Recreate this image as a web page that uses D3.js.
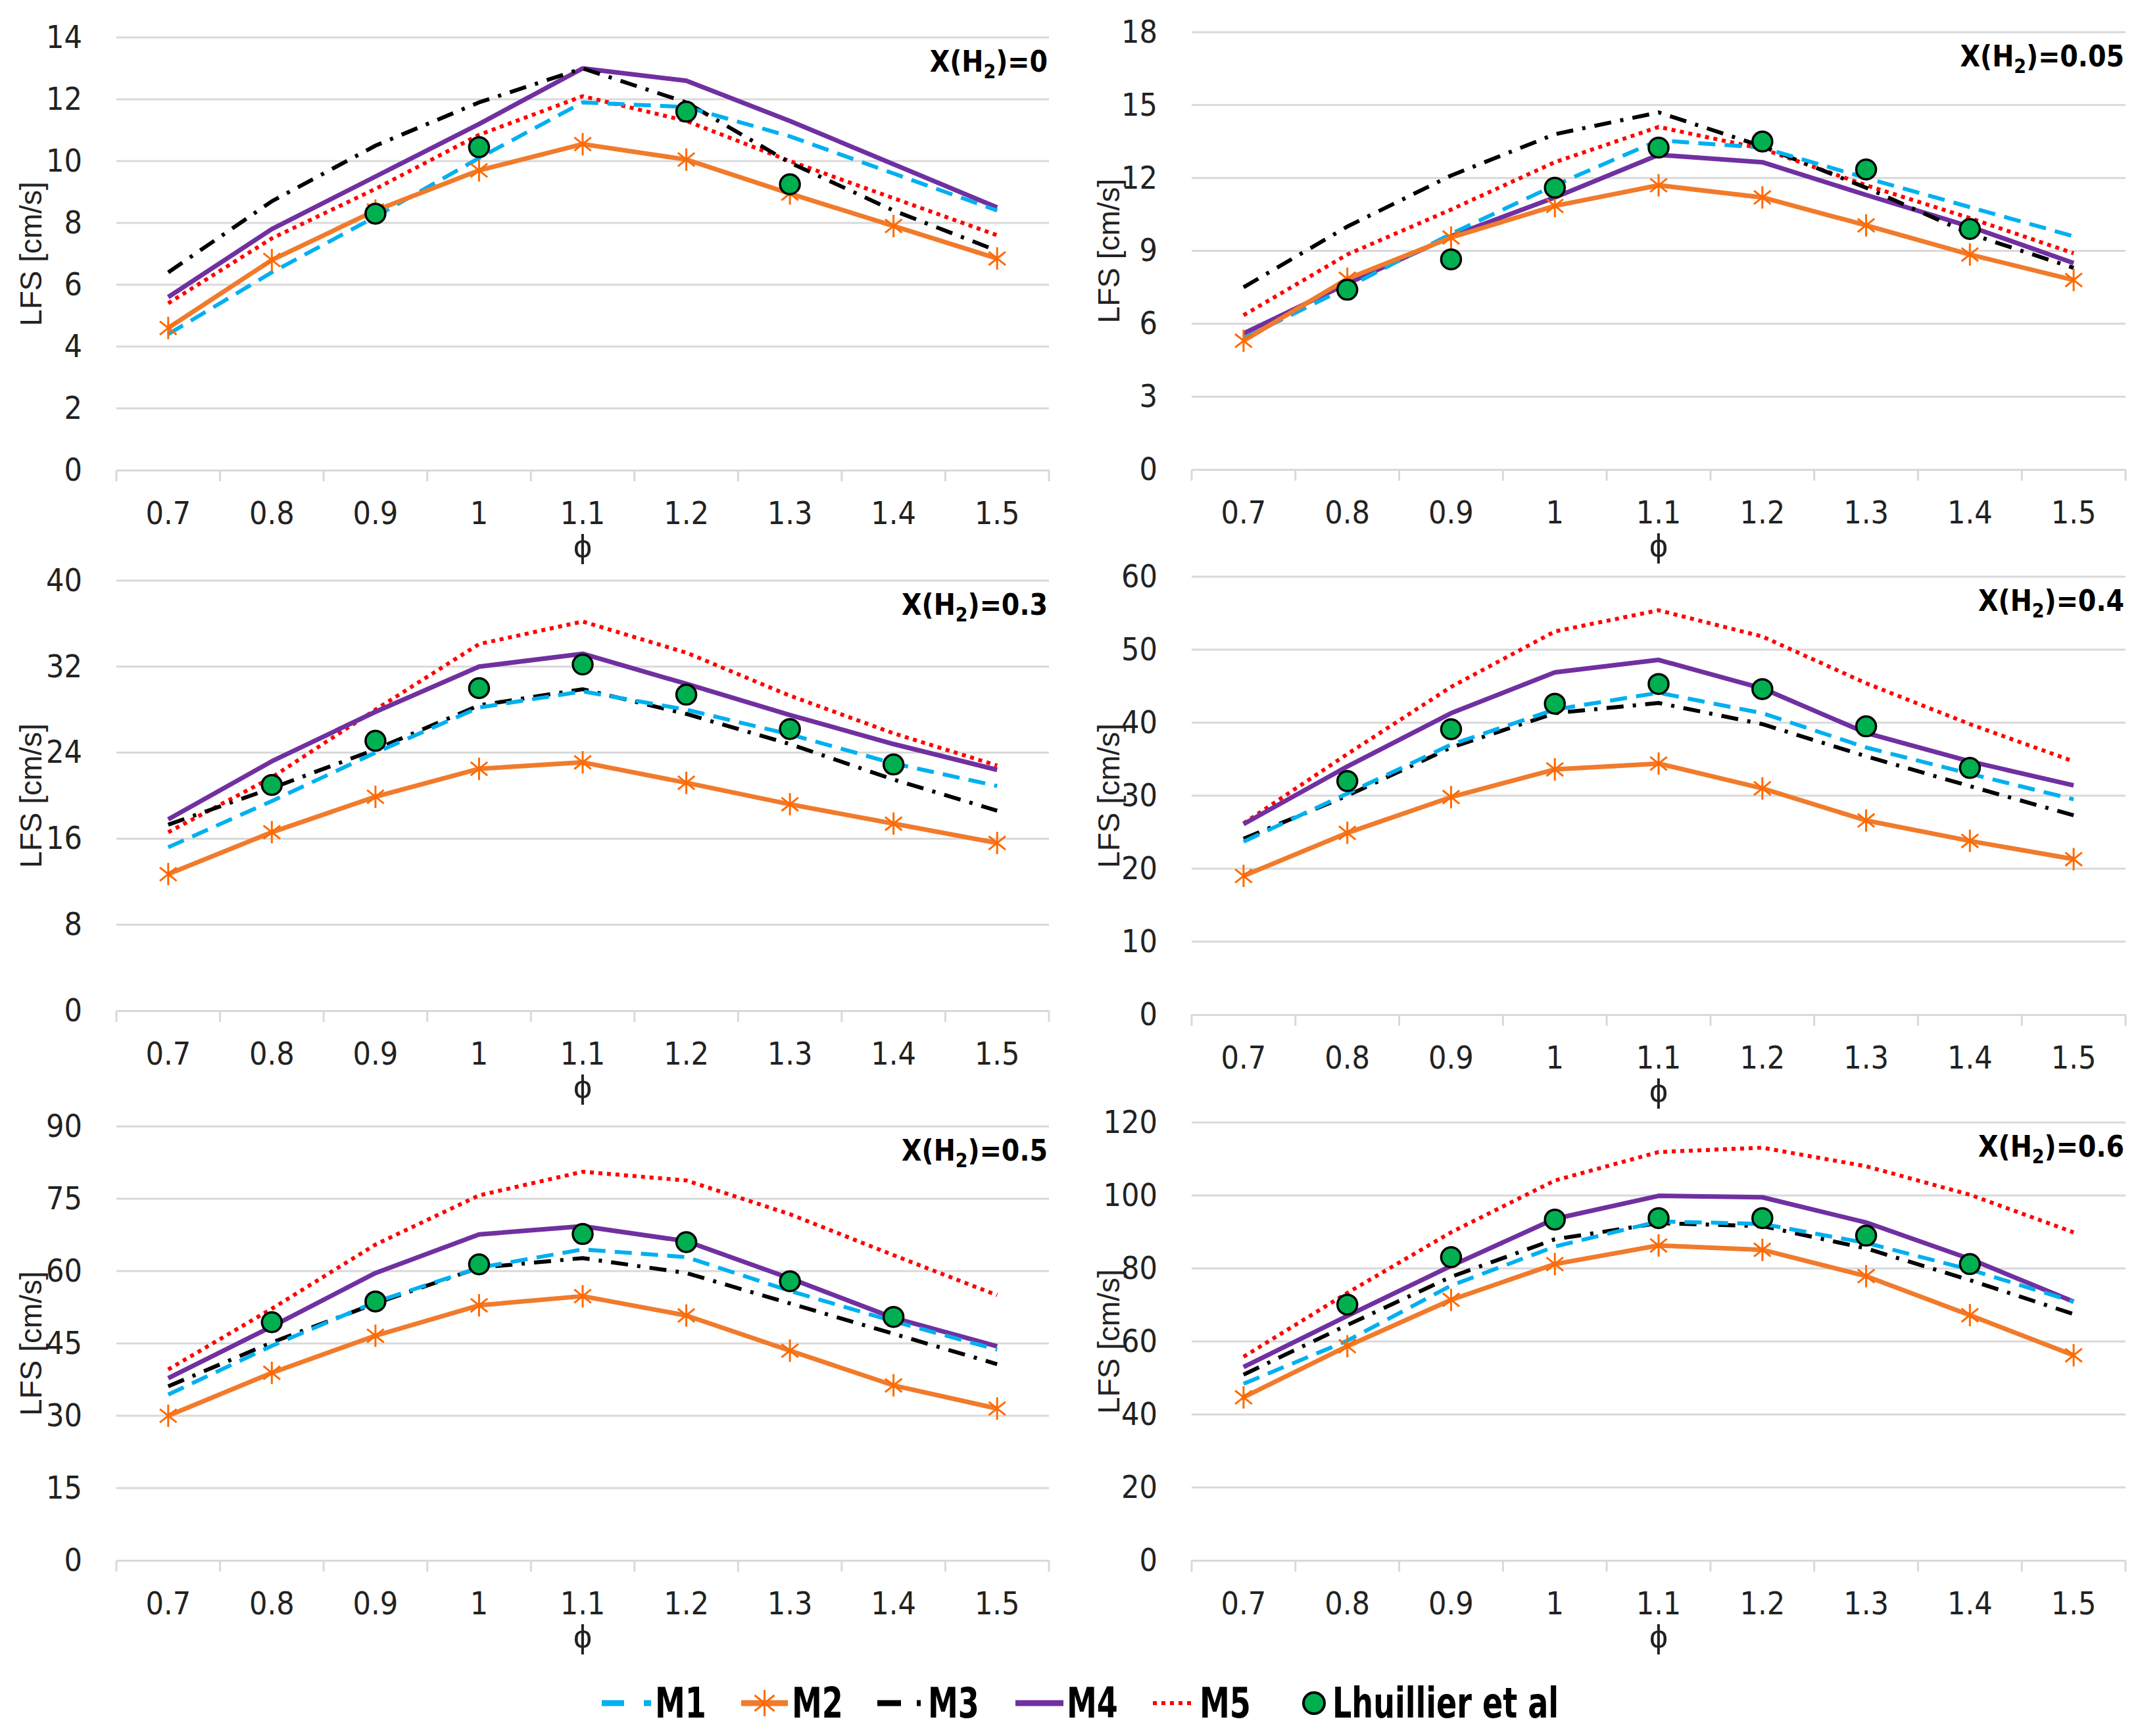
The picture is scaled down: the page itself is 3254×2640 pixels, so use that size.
<!DOCTYPE html>
<html>
<head>
<meta charset="utf-8">
<script src="https://cdn.jsdelivr.net/npm/d3@7"></script>
<style>
  body { margin: 0; background: #fff; }
  svg { display: block; }
</style>
</head>
<body>
<div id="chart"></div>
<script>
// ---- data ----
const phi = ["0.7", "0.8", "0.9", "1", "1.1", "1.2", "1.3", "1.4", "1.5"];
const panelTitles = ["0", "0.05", "0.3", "0.4", "0.5", "0.6"];
const yMax = [14, 18, 40, 60, 90, 120];
const yStep = [2, 3, 8, 10, 15, 20];
const seriesNames = ["M1", "M2", "M3", "M4", "M5", "Lhuillier et al"];

// one row per panel, values at phi 0.7 .. 1.5
const m1 = [
  [4.4, 6.4, 8.2, 10.1, 11.9, 11.75, 10.8, 9.6, 8.4],
  [5.4, 7.5, 9.7, 11.7, 13.55, 13.25, 12.0, 10.8, 9.6],
  [15.2, 19.5, 24.0, 28.2, 29.7, 28.0, 25.7, 23.0, 20.9],
  [23.7, 30.3, 37.0, 41.8, 44.1, 41.3, 36.6, 33.0, 29.5],
  [34.4, 44.5, 53.6, 60.7, 64.5, 62.9, 55.9, 49.6, 43.7],
  [48.4, 60.2, 75.3, 86.0, 92.9, 92.2, 87.0, 79.7, 70.9]
];
const m2 = [
  [4.6, 6.8, 8.4, 9.7, 10.55, 10.05, 8.95, 7.9, 6.85],
  [5.3, 7.85, 9.55, 10.85, 11.7, 11.2, 10.05, 8.85, 7.8],
  [12.7, 16.6, 19.9, 22.5, 23.1, 21.2, 19.2, 17.4, 15.6],
  [19.0, 24.9, 29.8, 33.6, 34.4, 31.0, 26.6, 23.8, 21.3],
  [30.0, 38.9, 46.6, 52.9, 54.8, 50.8, 43.5, 36.3, 31.5],
  [44.7, 58.7, 71.4, 81.2, 86.3, 85.1, 77.9, 67.2, 56.2]
];
const m3 = [
  [6.4, 8.7, 10.5, 11.9, 13.0, 11.9, 9.95, 8.4, 7.1],
  [7.5, 10.0, 12.1, 13.8, 14.7, 13.3, 11.6, 9.7, 8.3],
  [17.3, 20.7, 24.3, 28.4, 29.9, 27.6, 24.8, 21.5, 18.6],
  [24.1, 30.0, 36.6, 41.3, 42.7, 39.8, 35.4, 31.3, 27.3],
  [36.1, 45.2, 53.3, 60.7, 62.7, 59.6, 53.3, 47.0, 40.7],
  [50.9, 64.5, 77.7, 88.0, 92.4, 91.6, 85.5, 76.8, 67.5]
];
const m4 = [
  [5.6, 7.8, 9.5, 11.2, 13.0, 12.6, 11.3, 9.9, 8.5],
  [5.6, 7.65, 9.6, 11.2, 12.95, 12.65, 11.3, 10.0, 8.5],
  [17.8, 23.2, 27.8, 32.0, 33.2, 30.4, 27.5, 24.8, 22.4],
  [26.1, 34.0, 41.3, 46.9, 48.6, 44.7, 38.6, 34.7, 31.4],
  [37.8, 48.5, 59.6, 67.6, 69.3, 66.2, 58.5, 50.3, 44.4],
  [53.0, 67.0, 80.7, 93.6, 99.9, 99.5, 92.6, 82.6, 70.9]
];
const m5 = [
  [5.4, 7.5, 9.1, 10.85, 12.1, 11.3, 10.0, 8.8, 7.6],
  [6.35, 8.85, 10.7, 12.65, 14.1, 13.2, 11.7, 10.35, 8.9],
  [16.6, 21.7, 28.0, 34.1, 36.2, 33.3, 29.3, 25.8, 22.8],
  [26.2, 35.7, 44.9, 52.5, 55.4, 51.8, 45.4, 39.8, 34.7],
  [39.6, 52.2, 65.5, 75.7, 80.6, 78.8, 71.8, 63.3, 55.0],
  [55.8, 73.3, 89.9, 104.1, 111.9, 113.1, 108.0, 100.2, 89.9]
];
// experimental points (null = no point)
const lhuillier = [
  [null, null, 8.3, 10.45, null, 11.6, 9.25, null, null],
  [null, 7.4, 8.65, 11.6, 13.25, 13.5, 12.35, 9.9, null],
  [null, 21.0, 25.1, 30.0, 32.2, 29.4, 26.2, 22.9, null],
  [null, 32.0, 39.1, 42.6, 45.3, 44.6, 39.5, 33.8, null],
  [null, 49.4, 53.7, 61.4, 67.7, 66.0, 57.9, 50.5, null],
  [null, 70.1, 83.1, 93.4, 93.8, 93.8, 89.0, 81.2, null]
];

// ---- layout ----
const W = 3254, H = 2640;
const narrow = "'Liberation Sans Narrow', 'DejaVu Sans Condensed', 'Arial Narrow', sans-serif";
const plain = "'Liberation Sans', Arial, sans-serif";
const colX = [[177, 1595], [1812, 3232]];
const panelTop = [57, 49, 883, 877, 1713, 1707];
const panelBottom = [715, 714, 1537, 1543, 2373, 2373];
const lfsX = [47, 1686];

const styles = [
  { color: "#00b0f0", width: 6, dash: "26,14" },
  { color: "#f07b2c", width: 7, dash: null },
  { color: "#000000", width: 6, dash: "26,14,5,14" },
  { color: "#7030a0", width: 7, dash: null },
  { color: "#ff0000", width: 6, dash: "6,7" }
];
const starColor = "#ff6a00";
const dotFill = "#00b050";

const svg = d3.select("#chart").append("svg")
  .attr("width", W).attr("height", H)
  .attr("viewBox", `0 0 ${W} ${H}`);
svg.append("rect").attr("width", W).attr("height", H).attr("fill", "#fff");

const starPath = (s) => {
  const h = s, d = s * 0.75;
  return `M0,${-h}L0,${h}M${-d},${-d * 0.8}L${d},${d * 0.8}M${-d},${d * 0.8}L${d},${-d * 0.8}`;
};

const allModels = [m1, m2, m3, m4, m5];

panelTitles.forEach((title, p) => {
  const col = p % 2;
  const [x0, x1] = colX[col];
  const top = panelTop[p], bottom = panelBottom[p];
  const g = svg.append("g");

  const x = d3.scaleBand().domain(phi).range([x0, x1]).padding(0);
  const y = d3.scaleLinear().domain([0, yMax[p]]).range([bottom, top]);
  const ticks = d3.range(0, yMax[p] + 0.001, yStep[p]);

  // gridlines
  g.append("g").selectAll("line").data(ticks.filter(t => t > 0)).join("line")
    .attr("x1", x0).attr("x2", x1)
    .attr("y1", d => y(d)).attr("y2", d => y(d))
    .attr("stroke", "#d9d9d9").attr("stroke-width", 3);

  // y axis labels
  const yAxis = g.append("g").attr("transform", `translate(${x0 - 14},0)`)
    .call(d3.axisLeft(y).tickValues(ticks).tickSize(0).tickPadding(38));
  yAxis.select(".domain").remove();
  yAxis.selectAll("text").attr("font-family", narrow).attr("font-size", 48)
    .attr("fill", "#222");

  // x axis
  const xAxis = g.append("g").attr("transform", `translate(0,${bottom})`)
    .call(d3.axisBottom(x).tickSize(0).tickPadding(48));
  xAxis.select(".domain").attr("stroke", "#d9d9d9").attr("stroke-width", 3);
  xAxis.selectAll("text").attr("font-family", narrow).attr("font-size", 48)
    .attr("fill", "#222");
  xAxis.append("g").selectAll("line").data(d3.range(phi.length + 1)).join("line")
    .attr("x1", i => x0 + i * x.step()).attr("x2", i => x0 + i * x.step())
    .attr("y1", 0).attr("y2", 17)
    .attr("stroke", "#d9d9d9").attr("stroke-width", 3);

  // axis titles
  g.append("text").attr("x", (x0 + x1) / 2).attr("y", bottom + 133)
    .attr("text-anchor", "middle").attr("font-family", plain).attr("font-size", 50)
    .attr("fill", "#222").text("ϕ");
  g.append("text")
    .attr("transform", `translate(${lfsX[col]},${(top + bottom) / 2}) rotate(-90)`)
    .attr("text-anchor", "middle").attr("dominant-baseline", "central")
    .attr("font-family", plain).attr("font-size", 46).attr("fill", "#222")
    .text("LFS [cm/s]");

  // panel title X(H2)=...
  const t = g.append("text").attr("x", x1 - 2).attr("y", top + 52)
    .attr("text-anchor", "end").attr("font-family", narrow)
    .attr("font-weight", "bold").attr("font-size", 44).attr("fill", "#000");
  t.append("tspan").text("X(H");
  t.append("tspan").attr("font-size", 30).attr("dy", 10).text("2");
  t.append("tspan").attr("dy", -10).text(")=" + title);

  const cx = d => x(d) + x.bandwidth() / 2;
  const line = d3.line().x((d, i) => cx(phi[i])).y(d => y(d));

  // draw order: M5 dotted, M4, M3, M1, M2
  [4, 3, 2, 0, 1].forEach(k => {
    const st = styles[k];
    g.append("path").datum(allModels[k][p])
      .attr("fill", "none").attr("stroke", st.color)
      .attr("stroke-width", st.width)
      .attr("stroke-dasharray", st.dash)
      .attr("stroke-linejoin", "round")
      .attr("d", line);
  });

  // M2 star markers
  g.append("g").selectAll("path").data(m2[p]).join("path")
    .attr("transform", (d, i) => `translate(${cx(phi[i])},${y(d)})`)
    .attr("d", starPath(17))
    .attr("stroke", starColor).attr("stroke-width", 3).attr("fill", "none");

  // experimental circles
  const pts = lhuillier[p].map((v, i) => ({ v, c: phi[i] })).filter(d => d.v !== null);
  g.append("g").selectAll("circle").data(pts).join("circle")
    .attr("cx", d => cx(d.c)).attr("cy", d => y(d.v)).attr("r", 15)
    .attr("fill", dotFill).attr("stroke", "#000").attr("stroke-width", 3.5);
});

// ---- legend ----
const legY = 2590;
const legSym = [[915, 990], [1127, 1198], [1334, 1405], [1544, 1617], [1753, 1815], [1998, 1998]];
const legText = [996, 1204, 1411, 1622, 1824, 2026];
const leg = svg.append("g");
seriesNames.forEach((name, k) => {
  const [a, b] = legSym[k];
  if (k < 5) {
    const st = styles[k];
    let dash = st.dash;
    if (k === 0) dash = "34,30";
    if (k === 2) dash = "36,24,6,30";
    leg.append("line").attr("x1", a).attr("x2", b).attr("y1", legY).attr("y2", legY)
      .attr("stroke", st.color).attr("stroke-width", k === 4 ? 6 : 9)
      .attr("stroke-dasharray", dash);
    if (k === 1) {
      leg.append("path").attr("transform", `translate(${(a + b) / 2},${legY})`)
        .attr("d", starPath(20)).attr("stroke", starColor)
        .attr("stroke-width", 3).attr("fill", "none");
    }
  } else {
    leg.append("circle").attr("cx", a).attr("cy", legY).attr("r", 16)
      .attr("fill", dotFill).attr("stroke", "#000").attr("stroke-width", 4);
  }
  // squeezed horizontally to mimic the narrow original face
  leg.append("text")
    .attr("transform", `translate(${legText[k]},${legY + 22}) scale(0.8,1)`)
    .attr("font-family", narrow).attr("font-weight", "bold").attr("font-size", 64)
    .attr("fill", "#000").text(name);
});
</script>
</body>
</html>
